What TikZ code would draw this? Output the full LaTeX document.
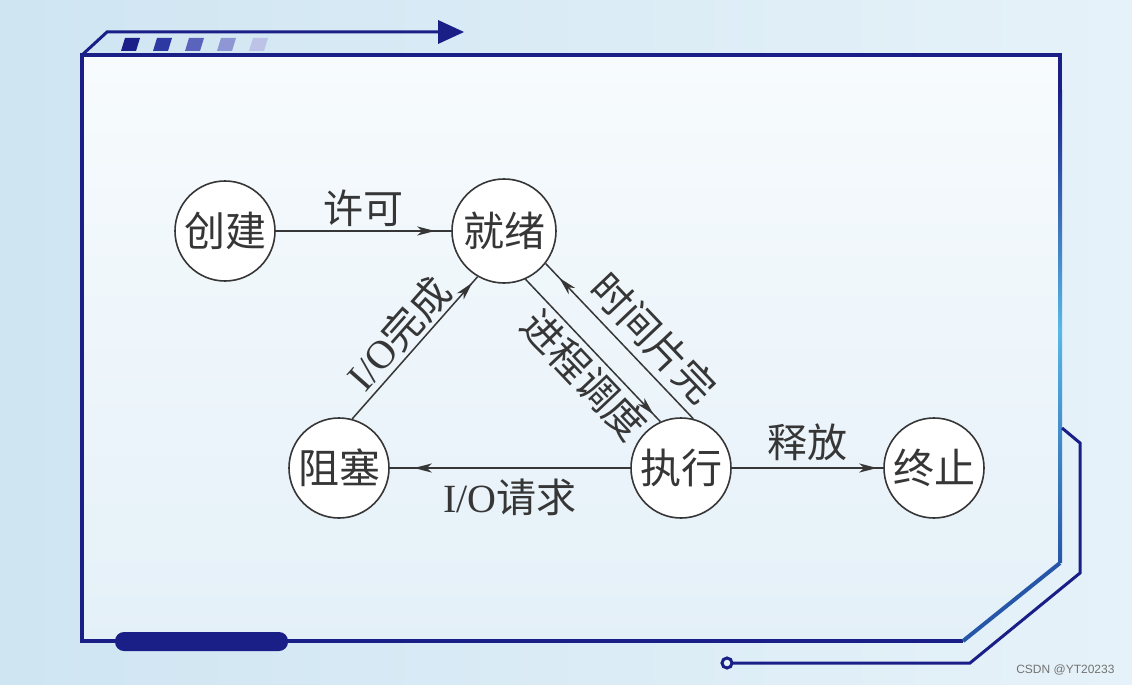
\documentclass[tikz,border=0pt]{standalone}
\usepackage{fontspec}
\setmainfont{Liberation Serif}
\newfontfamily\cjk{Noto Sans CJK SC}
\newfontfamily\wmfont{Liberation Sans}
\usetikzlibrary{arrows.meta,decorations.markings,calc}
\definecolor{navy}{HTML}{1A1F88}
\definecolor{midblue}{HTML}{2656A8}
\definecolor{cyanl}{HTML}{58B8E8}
\definecolor{ink}{HTML}{363636}
\definecolor{bgout}{HTML}{CFE5F2}
\definecolor{bgout2}{HTML}{E6F2F9}
\definecolor{bgin}{HTML}{F7FBFD}
\definecolor{bgin2}{HTML}{E4F0F8}
\definecolor{sqa}{HTML}{1C1F8A}
\definecolor{sqb}{HTML}{2E38A2}
\definecolor{sqc}{HTML}{5A64BC}
\definecolor{sqd}{HTML}{8E96D4}
\definecolor{sqe}{HTML}{BCC3E6}
\tikzset{
  state/.style={circle, draw=ink, line width=1.6pt, fill=white, minimum size=100pt, inner sep=0pt,
    text=ink, font=\cjk\fontsize{41}{43}\selectfont},
  flow/.style={draw=ink, line width=1.5pt, postaction={decorate},
    decoration={markings, mark=at position -#1 with {\arrow[ink]{Stealth[length=18pt,width=9pt,inset=5pt]}}}},
  flow/.default=14pt,
  lbl/.style={text=ink, inner sep=2pt, font=\cjk\fontsize{40}{42}\selectfont},
  frameline/.style={draw=navy, line width=4pt, line join=miter},
}
\begin{document}
\begin{tikzpicture}[x=1pt,y=-1pt]
\useasboundingbox (0,0) rectangle (1132,685);
% background
\shade[left color=bgout, right color=bgout2] (0,0) rectangle (1132,685);
\shade[top color=bgin, bottom color=bgin2] (82,55) -- (1060,55) -- (1060,563) -- (963,641) -- (82,641) -- cycle;
% frame
\draw[frameline] (1060,563) -- (1060,55) -- (82,55) -- (82,641) -- (963,641);
\draw[line width=4pt, midblue] (963,641) -- (1060,563);
\shade[top color=navy, bottom color=cyanl] (1058,90) rectangle (1062,330);
\shade[top color=cyanl, bottom color=midblue] (1058,330) rectangle (1062,562);
% top decoration
\draw[navy, line width=3pt] (82,55) -- (107,32) -- (442,32);
\fill[navy] (438,20) -- (464,32) -- (438,44) -- cycle;
\fill[sqa] (125,38) -- (140,38) -- (136,51) -- (121,51) -- cycle;
\fill[sqb] (157,38) -- (172,38) -- (168,51) -- (153,51) -- cycle;
\fill[sqc] (189,38) -- (204,38) -- (200,51) -- (185,51) -- cycle;
\fill[sqd] (221,38) -- (236,38) -- (232,51) -- (217,51) -- cycle;
\fill[sqe] (253,38) -- (268,38) -- (264,51) -- (249,51) -- cycle;
% bottom pill
\fill[navy, rounded corners=9pt] (115,632) rectangle (288,651);
% outer line on the right
\draw[navy, line width=3pt, line join=miter] (1062,428) -- (1080,443) -- (1080,573) -- (970,663) -- (733,663);
\draw[navy, line width=3pt, fill=bgout2] (727,663) circle (5pt);
% states
\node[state] (cj) at (225,231) {创建};
\node[state, minimum size=104pt] (jx) at (504,231) {就绪};
\node[state] (zs) at (339,468) {阻塞};
\node[state] (zx) at (681,468) {执行};
\node[state] (zz) at (934,468) {终止};
% transitions
\draw[flow=16pt] (cj) -- (jx) node[lbl, midway, above=2pt] {许可};
\draw[flow=8pt] (zs.75) -- (jx.240) node[lbl, midway, sloped, above=1pt] {{\rmfamily I/O}完成};
\draw[flow=10pt] (jx.-66) -- (zx.114) node[lbl, pos=0.56, sloped, below=2pt] {进程调度};
\draw[flow=20pt] (zx.76) -- (jx.-38) node[lbl, pos=0.4, sloped, above=6pt] {时间片完};
\draw[flow=24pt] (zx) -- (zs) node[lbl, midway, below=8pt] {{\rmfamily I/O}请求};
\draw[flow=6pt] (zx) -- (zz) node[lbl, midway, above=4pt] {释放};
% watermark
\node[text=black!55, font=\wmfont\fontsize{12}{14}\selectfont, anchor=east] (wm) at (1118,670) {CSDN @YT20233};
\end{tikzpicture}
\end{document}
